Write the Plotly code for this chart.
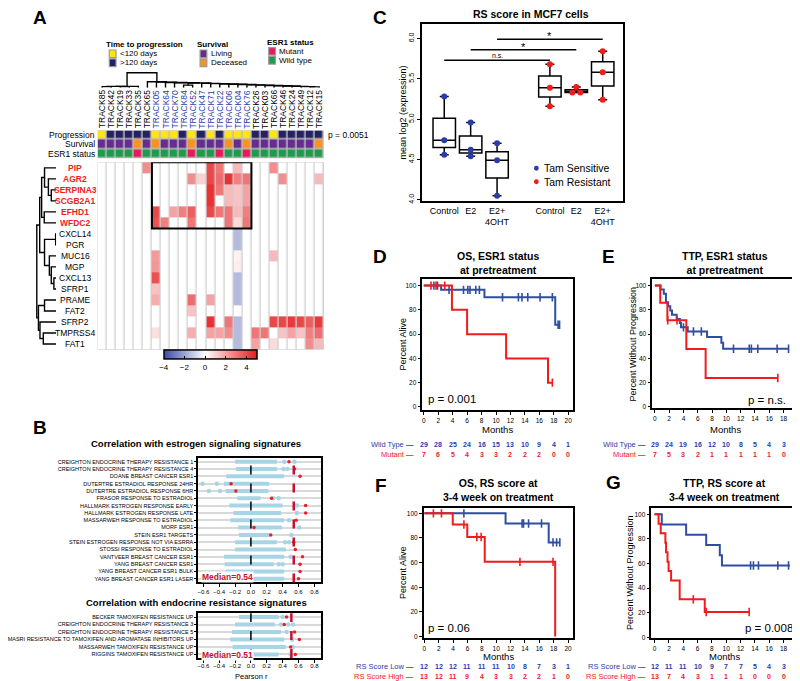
import plotly.graph_objects as go

W, H = 800, 681
FONT = "Arial, Liberation Sans, sans-serif"
BLUE = "#2B3DA8"
RED = "#EE1C25"
KM_BLUE = "#2F4EA2"
KM_RED = "#F21B1B"


def px(x):
    return x / W


def py(y):
    return 1 - y / H


def dom_x(a, b):
    return [a / W, b / W]


def dom_y(top, bot):
    return [1 - bot / H, 1 - top / H]


# ---------------- Panel A data ----------------
tracks = ["TRACK85", "TRACK42", "TRACK19", "TRACK33", "TRACK35", "TRACK65", "TRACK05",
          "TRACK64", "TRACK70", "TRACK84", "TRACK52", "TRACK47", "TRACK71", "TRACK22",
          "TRACK06", "TRACK04", "TRACK76", "TRACK26", "TRACK03", "TRACK66", "TRACK46",
          "TRACK24", "TRACK49", "TRACK12", "TRACK15"]
track_highlight = [0] * 6 + [1] * 11 + [0] * 8

genes = ["PIP", "AGR2", "SERPINA3", "SCGB2A1", "EFHD1", "WFDC2", "CXCL14", "PGR", "MUC16",
         "MGP", "CXCL13", "SFRP1", "PRAME", "FAT2", "SFRP2", "TMPRSS4", "FAT1"]
gene_highlight = [1] * 6 + [0] * 11

expr = [
    [0, 0, 0, 0, 0, 2.5, 0, 0, 0, 0, 0, 0, 4, 3, 0, 1.5, 0, 0, 0, 2.5, 0, 0, 0, 0, 0],
    [0, 0, 0, 0, 0, 0, 0, 0, 0, 0, 2.5, 1, 4, 3.2, 4.5, 2.8, 3, 0, 0, 0, 2.5, 0, 0, 0, 1.5],
    [0, 0, 0, 0, 0, 0, 0, 0, 0, 0, 0, 0, 4.5, 3, 1.5, 1.3, 2, 0, 0, 0, 0, 0, 0, 0, 0],
    [0, 0, 0, 0, 0, 0, 0, 0, 0, 0, 0, 0, 4.5, 0, 1.5, 1.3, 2, 0, 0, 0, 0, 0, 0, 0, 0],
    [0, 0, 0, 0, 0, 0, 4, 0, 2, 2.8, 3.5, 0, 4, 3, 3, 1.5, 2.8, 0, 0, 0, 0, 0, 0, 0, 0],
    [0, 0, 0, 0, 0, 0, 3.8, 2.8, 0, 0, 3, 0, 0, 0, 3, 0.8, 3, 0, 0, 0, 0, 0, 0, 0, 0],
    [0, 0, 0, 0, 0, 0, 0, 0, 0, 0, 0, 0, 0, 0, 0, -1.5, 0, 0, 0, 0, 0, 0, 0, 0, 0],
    [0, 0, 0, 0, 0, 0, 0, 0, 0, 0, 0, 0, 0, 0, 0, -1.5, 0, 0, 0, 0, 0, 0, 0, 0, 0],
    [0, 0, 0, 0, 0, 0, 2.2, 0, 0, 0, 0, 0, 0, 0, 0, 0.3, 0, 0, 0, 1.5, 0, 0, 0, 0, 0],
    [0, 0, 0, 0, 0, 0, 2.3, 0, 0, 0, 0, 0, 0, 0, 0, 0.4, 0, 0, 0, 0, 0, 0, 0, 0, 0],
    [0, 0, 0, 0, 0, 0, 3.8, 0, 0, 0, 0, 0, 0, 0, 0, -1.5, 0, 0, 0, 0, 0, 0, 0, 0, 0],
    [0, 0, 0, 0, 0, 0, 1.3, 0, 0, 0, 0, 0, 0, 0, 0, -1.5, 0, 0, 0, 0, 0, 0, 0, 0, 0],
    [0, 0, 0, 0, 0, 0, 1.8, 0, 0, 0, 3.2, 0, 2, 0, 0, -1.5, 0, 0, 0, 0, 0, 0, 0, 0, 0],
    [0, 0, 0, 0, 0, 0, 0, 0, 0, 0, 1.3, 0, 0, 0, 0, 0, 0, 0, 0, 0, 0, 0, 0, 0, 0],
    [0, 0, 0, 0, 0, 0, 0, 0, 0, 0, 0, 0, 4.5, 0, 3, -1.5, 0, 0, 0, 4, 4, 4.3, 4, 3.5, 4.3],
    [0, 0, 0, 0, 0, 0, 0.7, 0, 0, 0, 1.8, 0, 2, 2, 2.5, -1.5, 0, 3, 3, 0, 1.3, 2, 1.3, 2.8, 3.2],
    [0, 0, 0, 0, 0, 0, 0, 0, 0, 0, 0, 0, 0, 0, 0, -1.5, 0, 2, 0, 0.8, 0, 0, 0, 2.5, 1.5],
]

progression = ["<120", ">120", ">120", ">120", ">120", ">120", "<120", "<120", "<120", ">120",
               "<120", ">120", "<120", ">120", "<120", "<120", "<120", ">120", ">120", "<120",
               ">120", ">120", ">120", ">120", ">120"]
survival = ["Living", "Living", "Living", "Living", "Deceased", "Living", "Deceased", "Living",
            "Living", "Living", "Deceased", "Living", "Living", "Living", "Deceased", "Living",
            "Deceased", "Living", "Living", "Living", "Living", "Living", "Living", "Living",
            "Deceased"]
esr1 = ["WT", "WT", "WT", "WT", "Mut", "WT", "WT", "WT", "WT", "WT", "Mut", "WT", "WT", "Mut",
        "WT", "WT", "Mut", "WT", "WT", "WT", "WT", "WT", "WT", "WT", "WT"]
ann_rows = ["Progression", "Survival", "ESR1 status"]

# dendrogram merges (child a, child b, height)
col_merges = [(0, 1, 1.0), (2, 3, 1.0), (25, 26, 1.3), (27, 4, 1.3), (9, 10, 2.5),
              (23, 24, 0.8), (22, 30, 1.0), (21, 31, 1.3), (20, 32, 1.6), (19, 33, 1.9),
              (18, 34, 2.2), (17, 35, 2.5), (16, 36, 2.8), (15, 37, 3.1), (14, 38, 3.4),
              (13, 39, 3.7), (12, 40, 4.0), (11, 41, 4.3), (29, 42, 4.6), (8, 43, 4.9),
              (7, 44, 5.2), (6, 45, 5.5), (5, 46, 6.0), (28, 47, 15.0)]
row_merges = [(2, 3, 5), (1, 17, 8), (0, 18, 12), (4, 5, 12.3), (19, 20, 15), (6, 7, 0.5),
              (10, 11, 2.3), (9, 23, 5), (8, 24, 7), (22, 25, 12), (12, 13, 12),
              (15, 16, 13.3), (14, 28, 16.7), (27, 29, 18.3), (21, 26, 17), (31, 30, 20)]

# ---------------- Panel B data ----------------
est_sigs = ["CREIGHTON ENDOCRINE THERAPY RESISTANCE 1", "CREIGHTON ENDOCRINE THERAPY RESISTANCE 4",
            "DOANE BREAST CANCER ESR1", "DUTERTRE ESTRADIOL RESPONSE 24HR",
            "DUTERTRE ESTRADIOL RESPONSE 6HR", "FRASOR RESPONSE TO ESTRADIOL",
            "HALLMARK ESTROGEN RESPONSE EARLY", "HALLMARK ESTROGEN RESPONSE LATE",
            "MASSARWEH RESPONSE TO ESTRADIOL", "MORF ESR1", "STEIN ESR1 TARGETS",
            "STEIN ESTROGEN RESPONSE NOT VIA ESRRA", "STOSSI RESPONSE TO ESTRADIOL",
            "VANTVEER BREAST CANCER ESR1", "YANG BREAST CANCER ESR1",
            "YANG BREAST CANCER ESR1 BULK", "YANG BREAST CANCER ESR1 LASER"]
est_lo = [-0.20, -0.19, -0.31, -0.34, -0.32, -0.17, -0.27, -0.22, -0.26, -0.16, -0.15, -0.20,
          -0.20, -0.34, -0.33, -0.32, -0.19]
est_hi = [0.33, 0.33, 0.42, 0.23, 0.22, 0.12, 0.40, 0.38, 0.42, 0.39, 0.24, 0.33, 0.44, 0.42,
          0.29, 0.42, 0.42]
est_extra = [[0.42, 0.55], [0.41, 0.46], [], [-0.61, -0.43], [-0.53, -0.39], [0.28, 0.35],
             [0.58], [0.58], [0.48], [0.61], [0.51], [0.43, 0.48], [], [0.50], [0.35, 0.40],
             [], []]
est_rs = [0.48, 0.55, 0.62, -0.25, -0.19, 0.26, 0.69, 0.69, 0.57, 0.04, 0.25, 0.54, 0.56, 0.65,
          0.62, 0.62, 0.60]
est_median = 0.54

res_sigs = ["BECKER TAMOXIFEN RESISTANCE UP", "CREIGHTON ENDOCRINE THERAPY RESISTANCE 3",
            "CREIGHTON ENDOCRINE THERAPY RESISTANCE 5",
            "MASRI RESISTANCE TO TAMOXIFEN AND AROMATASE INHIBITORS UP",
            "MASSARWEH TAMOXIFEN RESISTANCE UP", "RIGGINS TAMOXIFEN RESISTANCE UP"]
res_lo = [-0.15, -0.20, -0.24, -0.26, -0.23, -0.19]
res_hi = [0.35, 0.30, 0.38, 0.42, 0.44, 0.35]
res_extra = [[0.40], [0.38, 0.47, 0.53], [0.45], [0.52], [0.53], [0.50]]
res_rs = [0.45, 0.42, 0.55, 0.61, 0.50, 0.56]
res_median = 0.51

# ---------------- Panel C data ----------------
c_labels = ["Control", "E2", "E2+<br>4OHT", "Control", "E2", "E2+<br>4OHT"]
c_pos = [1, 2, 3, 5, 6, 7]
c_values = [[4.56, 4.74, 5.28], [4.54, 4.62, 4.96], [4.05, 4.49, 4.70],
            [5.16, 5.39, 5.68], [5.33, 5.33, 5.40], [5.24, 5.58, 5.84]]
c_resistant = [0, 0, 0, 1, 1, 1]
c_dot_dx = [[0, 0, 0], [0, 0, 0], [0, 0, 0], [0, 0, 0], [-0.15, 0.15, 0], [0, 0, 0]]
sig_pairs = [(1, 5), (2, 6), (3, 7)]
sig_y = [5.73, 5.86, 5.99]
sig_text = ["n.s.", "*", "*"]

# ---------------- Panels D-G data ----------------
risk_months = [0, 2, 4, 6, 8, 10, 12, 14, 16, 18, 20]

d_blue_t = [0, 2.4, 8.4, 18.2, 18.8]
d_blue_s = [100, 96.5, 90.4, 67.7, 67.7]
d_blue_c = [1.4, 1.9, 3.5, 5.5, 6.1, 6.4, 7.2, 7.7, 10.9, 13.1, 13.6, 14.4, 16.1, 17.8, 18.6, 18.8]
d_red_t = [0, 3.9, 6.0, 11.4, 17.2, 17.8]
d_red_s = [100, 80, 60, 40, 20, 20]
d_red_c = [1.0, 1.7, 2.9, 17.8]
d_risk_blue = [29, 28, 25, 24, 16, 15, 13, 10, 9, 4, 1]
d_risk_red = [7, 6, 5, 4, 3, 3, 2, 2, 2, 0, 0]

e_blue_t = [0, 0.8, 1.25, 1.55, 1.85, 2.15, 2.4, 3.05, 3.5, 3.65, 4.6, 7.3, 9.3, 9.55, 18.7]
e_blue_s = [100, 96.6, 93.1, 86.2, 82.8, 79.3, 75.9, 72.4, 69.0, 65.5, 62.1, 57.6, 52.8, 47.9, 47.9]
e_blue_c = [4.0, 5.4, 6.5, 11.0, 13.2, 13.5, 14.4, 17.1, 18.7]
e_red_t = [0, 0.75, 1.75, 4.4, 7.1, 17.2]
e_red_s = [100, 85.7, 71.4, 47.6, 23.8, 23.8]
e_red_c = [1.8, 3.1, 17.2]
e_risk_blue = [29, 24, 19, 16, 12, 10, 8, 5, 4, 3, 1]
e_risk_red = [7, 5, 3, 2, 1, 1, 1, 1, 1, 0, 0]

f_blue_t = [0, 11.3, 17.3, 18.85]
f_blue_s = [100, 91.7, 76.4, 76.4]
f_blue_c = [5.5, 13.6, 13.8, 14.5, 16.3, 17.9, 18.4, 18.85]
f_red_t = [0, 3.95, 5.97, 8.4, 18.2]
f_red_s = [100, 90.9, 80.8, 60.6, 0]
f_red_c = [1.26, 2.38, 5.5, 7.3, 7.9, 13.3, 17.9]
f_risk_blue = [12, 12, 12, 11, 11, 11, 10, 8, 7, 3, 1]
f_risk_red = [13, 12, 11, 9, 4, 3, 3, 2, 2, 1, 0]

g_blue_t = [0, 1.0, 4.4, 7.2, 9.1, 9.4, 18.9]
g_blue_s = [100, 91.7, 83.3, 75.0, 66.7, 58.3, 58.3]
g_blue_c = [13.4, 13.8, 14.5, 17.2, 18.7]
g_red_t = [0, 0.55, 0.85, 1.5, 1.6, 1.8, 1.95, 2.3, 3.5, 7.0, 13.2]
g_red_s = [100, 92.3, 84.6, 76.9, 69.2, 61.5, 53.8, 46.2, 30.8, 20.5, 20.5]
g_red_c = [5.4, 7.2, 13.2]
g_risk_blue = [12, 11, 11, 10, 9, 7, 7, 5, 4, 3, 1]
g_risk_red = [13, 7, 4, 3, 1, 1, 1, 0, 0, 0, 0]

# ---------------------------------------------------------------
fig = go.Figure()
annotations = []
shapes = []


def note(text, x, y, size=8, color="black", bold=False, xanchor="center", yanchor="middle",
         xref="paper", yref="paper", angle=0, **kw):
    if bold:
        text = "<b>" + text + "</b>"
    kw.setdefault("borderpad", 0)
    annotations.append(dict(text=text, x=x, y=y, xref=xref, yref=yref, xanchor=xanchor,
                            yanchor=yanchor, showarrow=False, textangle=angle,
                            font=dict(family=FONT, size=size, color=color), **kw))


def dendro(merges, n):
    pos = list(range(n))
    hgt = [0.0] * n
    a_list, h_list = [], []
    for a, b, h in merges:
        a_list += [pos[a], pos[a], pos[b], pos[b], None]
        h_list += [hgt[a], h, h, hgt[b], None]
        pos.append((pos[a] + pos[b]) / 2)
        hgt.append(h)
    return a_list, h_list


# ---------------- Panel A ----------------
shapes.append(dict(type="rect", xref="x", yref="y", x0=-0.5, x1=24.5, y0=-0.5, y1=16.5,
                   fillcolor="#CFCFCF", line=dict(color="#C4C4C4", width=1), layer="below"))
fig.add_trace(go.Heatmap(
    z=expr, x=list(range(len(tracks))), y=list(range(len(genes))), zmin=-4, zmax=5,
    colorscale=[[0, "#3A4AA6"], [4 / 9, "#FFFFFF"], [1, "#E41A1C"]], xgap=1.3, ygap=0,
    xaxis="x", yaxis="y",
    colorbar=dict(orientation="h", x=px(185.5), xanchor="center", y=py(356.5), yanchor="middle",
                  len=93, lenmode="pixels", thickness=9, outlinecolor="black", outlinewidth=1.5,
                  tickvals=[-4, -2, 0, 2, 4], ticks="inside", ticklen=3, tickcolor="black",
                  tickfont=dict(family=FONT, size=8, color="black"), xpad=0, ypad=0)))

ann_colors = ["#FFE512", "#262262", "#662D91", "#F7931E", "#E6195B", "#1E9B4B"]
code = {"<120": 0, ">120": 1, "Living": 2, "Deceased": 3, "Mut": 4, "WT": 5}
z_ann = [[code[v] for v in progression], [code[v] for v in survival], [code[v] for v in esr1]]
shapes.append(dict(type="rect", xref="x", yref="y2", x0=-0.5, x1=24.5, y0=-0.5, y1=2.5,
                   fillcolor="#BDBDBD", line=dict(color="#BDBDBD", width=1), layer="below"))
fig.add_trace(go.Heatmap(
    z=z_ann, x=list(range(len(tracks))), y=[0, 1, 2], zmin=0, zmax=5, showscale=False,
    colorscale=[[i / 5, c] for i, c in enumerate(ann_colors)], xgap=1.5, ygap=1.5,
    xaxis="x", yaxis="y2"))

cx, ch = dendro(col_merges, len(tracks))
fig.add_trace(go.Scatter(x=cx, y=ch, mode="lines", line=dict(color="black", width=1.4),
                         xaxis="x", yaxis="y3", hoverinfo="skip"))
ry, rh = dendro(row_merges, len(genes))
fig.add_trace(go.Scatter(x=rh, y=ry, mode="lines", line=dict(color="black", width=1.4),
                         xaxis="x4", yaxis="y", hoverinfo="skip"))

shapes.append(dict(type="rect", xref="x", yref="y", x0=5.5, x1=16.5, y0=-0.5, y1=5.5,
                   line=dict(color="black", width=2)))

for i, t in enumerate(tracks):
    note(t, i, py(122), size=8.5, color=BLUE if track_highlight[i] else "black",
         xref="x", yanchor="bottom", angle=-90)
for i, g in enumerate(genes):
    if gene_highlight[i]:
        note(g, px(46), i, size=8.5, color=RED, bold=True, yref="y")
    else:
        note(g, px(46), i, size=8.5, yref="y")
for i, r in enumerate(ann_rows):
    note(r, px(67.5), i, size=8.5, xanchor="right", yref="y2")
note("p = 0.0051", px(306), 0, size=8.5, xanchor="left", yref="y2")

# legend of annotation tracks
legend_groups = [
    ("Time to progression", 77, 36.5, [(ann_colors[0], "<120 days"), (ann_colors[1], ">120 days")], 81, 46),
    ("Survival", 171, 36.5, [(ann_colors[2], "Living"), (ann_colors[3], "Deceased")], 175, 46),
    ("ESR1 status", 243, 35, [(ann_colors[4], "Mutant"), (ann_colors[5], "Wild type")], 246, 43.5),
]
for title, tx, ty, items, bx, by in legend_groups:
    note(title, px(tx), py(ty), size=8, bold=True, xanchor="left")
    for k, (col, lab) in enumerate(items):
        yc = by + k * 9
        shapes.append(dict(type="rect", xref="paper", yref="paper", x0=px(bx), x1=px(bx + 7),
                           y0=py(yc + 3.8), y1=py(yc - 3.8), fillcolor=col,
                           line=dict(color="#9A9A9A", width=1.2)))
        note(lab, px(bx + 10), py(yc), size=8, xanchor="left")

# ---------------- Panel B ----------------
def add_corr(xa, ya, lo, hi, extra, rs, median):
    sx, sy = [], []
    for i in range(len(lo)):
        sx += [lo[i], hi[i], None]
        sy += [i, i, None]
    fig.add_trace(go.Scatter(x=sx, y=sy, mode="lines", line=dict(color="#A7D5E6", width=4),
                             xaxis=xa, yaxis=ya, hoverinfo="skip"))
    ex = [v for row in extra for v in row]
    ey = [i for i, row in enumerate(extra) for _ in row]
    fig.add_trace(go.Scatter(x=ex, y=ey, mode="markers", marker=dict(color="#A7D5E6", size=4.5),
                             xaxis=xa, yaxis=ya, hoverinfo="skip"))
    fig.add_trace(go.Scatter(x=rs, y=list(range(len(rs))), mode="markers",
                             marker=dict(color="#E8202A", size=3.5), xaxis=xa, yaxis=ya))
    shapes.append(dict(type="line", xref=xa, yref=ya + " domain", x0=0, x1=0, y0=0, y1=1,
                       line=dict(color="black", width=1.5, dash="dash")))
    shapes.append(dict(type="line", xref=xa, yref=ya + " domain", x0=median, x1=median, y0=0,
                       y1=1, line=dict(color="#C8102E", width=2.5, dash="dash")))


add_corr("x5", "y5", est_lo, est_hi, est_extra, est_rs, est_median)
add_corr("x6", "y6", res_lo, res_hi, res_extra, res_rs, res_median)
note("Correlation with estrogen signaling signatures", px(171), py(437), size=9.5, bold=True)
note("Correlation with endocrine resistance signatures", px(171), py(597.5), size=9.5, bold=True)
note("Median=%.2f" % est_median, px(176), py(571.5), size=8.5, color="#C8102E", bold=True,
     xanchor="left", bgcolor="white")
note("Median=%.2f" % res_median, px(176), py(649.5), size=8.5, color="#C8102E", bold=True,
     xanchor="left", bgcolor="white")
note("Pearson r", px(228), py(671), size=7.5)

# ---------------- Panel C ----------------
for i, vals in enumerate(c_values):
    fig.add_trace(go.Box(x=[c_pos[i]] * len(vals), y=vals, width=0.85, whiskerwidth=0.4,
                         boxpoints=False, quartilemethod="inclusive", fillcolor="rgba(0,0,0,0)",
                         line=dict(color="black", width=1.5), xaxis="x7", yaxis="y7"))
    fig.add_trace(go.Scatter(x=[c_pos[i] + d for d in c_dot_dx[i]], y=vals, mode="markers",
                             marker=dict(color="#F41A1A" if c_resistant[i] else BLUE, size=6),
                             xaxis="x7", yaxis="y7"))
for (a, b), yv, txt in zip(sig_pairs, sig_y, sig_text):
    shapes.append(dict(type="line", xref="x7", yref="y7", x0=a, x1=b, y0=yv, y1=yv,
                       line=dict(color="black", width=1.5)))
    note(txt, (a + b) / 2, yv, size=7 if txt == "n.s." else 11, xref="x7", yref="y7",
         yanchor="bottom", yshift=0 if txt == "n.s." else -4)
note("RS score in MCF7 cells", px(517), py(6.5), size=10.5, bold=True)
note("mean log2 (expression)", px(385), py(105), size=9, angle=-90)
for k, (lab, col) in enumerate([("Tam Sensitive", BLUE), ("Tam Resistant", "#F41A1A")]):
    yc = 161 + k * 13.5
    shapes.append(dict(type="circle", xref="paper", yref="paper", x0=px(520.5), x1=px(525.5),
                       y0=py(yc + 2.5), y1=py(yc - 2.5), fillcolor=col, line=dict(width=0)))
    note(lab, px(530), py(yc), size=10.5, xanchor="left")

# ---------------- Panels D-G ----------------
km_panels = [
    dict(n=8, t=[(d_blue_t, d_blue_s, d_blue_c, KM_BLUE), (d_red_t, d_red_s, d_red_c, KM_RED)],
         risk=(d_risk_blue, d_risk_red), labels=("Wild Type", "Mutant"),
         title="OS, ESR1 status<br>at pretreatment", ytitle="Percent Alive"),
    dict(n=9, t=[(e_blue_t, e_blue_s, e_blue_c, KM_BLUE), (e_red_t, e_red_s, e_red_c, KM_RED)],
         risk=(e_risk_blue, e_risk_red), labels=("Wild Type", "Mutant"),
         title="TTP, ESR1 status<br>at pretreatment", ytitle="Percent Without Progression"),
    dict(n=10, t=[(f_blue_t, f_blue_s, f_blue_c, KM_BLUE), (f_red_t, f_red_s, f_red_c, KM_RED)],
         risk=(f_risk_blue, f_risk_red), labels=("RS Score Low", "RS Score High"),
         title="OS, RS score at<br>3-4 week on treatment", ytitle="Percent Alive"),
    dict(n=11, t=[(g_blue_t, g_blue_s, g_blue_c, KM_BLUE), (g_red_t, g_red_s, g_red_c, KM_RED)],
         risk=(g_risk_blue, g_risk_red), labels=("RS Score Low", "RS Score High"),
         title="TTP, RS score at<br>3-4 week on treatment", ytitle="Percent Without Progression"),
]
km_geom = {  # left, right, top, bottom (px), title y, months y, risk rows y, ytitle x, label right
    8: (405, 561, 272, 404, 256, 423, (438, 448.5), 385, 397),
    9: (643, 794, 272, 402, 256, 423, (438, 448.5), 623, 637),
    10: (406.5, 561, 502, 633, 484, 651, (661, 671), 385, 397),
    11: (642, 794, 502, 633, 484, 651, (661, 671), 620, 637),
}
km_ranges = {8: ([-0.2, 20.67], [-2.7, 105.6]), 9: ([-0.36, 20.05], [-1.1, 105.5]),
             10: ([-0.08, 20.69], [-1.4, 104.5]), 11: ([-0.46, 20.05], [-0.8, 105.3])}
for p in km_panels:
    n = p["n"]
    xa, ya = "x%d" % n, "y%d" % n
    for tt, ss, cc, col in p["t"]:
        fig.add_trace(go.Scatter(x=tt, y=ss, mode="lines", line=dict(color=col, width=2, shape="hv"),
                                 xaxis=xa, yaxis=ya))
        cens = []
        for c in cc:
            lvl = [s for t, s in zip(tt, ss) if t <= c][-1]
            cens.append(lvl)
        fig.add_trace(go.Scatter(x=cc, y=cens, mode="markers",
                                 marker=dict(symbol="line-ns-open", size=6, color=col,
                                             line=dict(color=col, width=1.6)),
                                 xaxis=xa, yaxis=ya))
    l, r, t, b, ty, my, (r1, r2), ytx, lr = km_geom[n]
    note("<b>" + p["title"].replace("<br>", "</b><br><b>") + "</b>", px((l + r) / 2), py(ty), size=10.5)
    note("Months", px((l + r) / 2), py(my), size=9.5)
    note(p["ytitle"], px(ytx), py((t + b) / 2), size=9, angle=-90)
    for m, vb, vr in zip(risk_months, p["risk"][0], p["risk"][1]):
        note(str(vb), m, py(r1), size=7, color=BLUE, bold=True, xref=xa)
        note(str(vr), m, py(r2), size=7, color=RED, bold=True, xref=xa)
    note(p["labels"][0] + " <b>\u2014</b>", px(lr), py(r1), size=7.5, color=BLUE, xanchor="right")
    note(p["labels"][1] + " <b>\u2014</b>", px(lr), py(r2), size=7.5, color=RED, xanchor="right")

note("p = 0.001", px(410), py(393), size=11.5, xanchor="left")
note("p = n.s.", px(782), py(394), size=11.5, xanchor="right")
note("p = 0.06", px(410), py(623), size=11.5, xanchor="left")
note("p = 0.008", px(790), py(623), size=11.5, xanchor="right")

# panel letters
for letter, lx, ly in [("A", 9, 10), ("C", 361, 10), ("B", 9, 421), ("D", 361, 250),
                       ("E", 598, 250), ("F", 362, 480), ("G", 603, 477)]:
    note(letter, px(lx), py(ly), size=19, bold=True)

# ---------------- axes ----------------
axis_font = dict(family=FONT, size=6.5, color="black")
box_axis = dict(showline=True, mirror=True, linecolor="black", linewidth=1.5, ticks="outside",
                ticklen=3, tickwidth=1, tickcolor="black", showgrid=False, zeroline=False,
                tickfont=axis_font)

layout_axes = dict(
    xaxis=dict(domain=dom_x(69, 303), range=[-0.5, 24.5], visible=False, anchor="y"),
    yaxis=dict(domain=dom_y(155, 343), range=[16.5, -0.5], visible=False, anchor="x"),
    yaxis2=dict(domain=dom_y(123, 151), range=[2.5, -0.5], visible=False, anchor="x"),
    yaxis3=dict(domain=dom_y(62, 80), range=[0, 18], visible=False, anchor="x"),
    xaxis4=dict(domain=dom_x(2, 26), range=[24, 0], visible=False, anchor="y"),
    xaxis5=dict(box_axis, domain=dom_x(173, 300), range=[-0.665, 0.882], anchor="y5",
                tickvals=[-0.6, -0.4, -0.2, 0, 0.2, 0.4, 0.6, 0.8], tickformat=".1f",
                tickfont=dict(family=FONT, size=6, color="black")),
    yaxis5=dict(box_axis, domain=dom_y(452, 577), range=[16.5, -0.5], anchor="x5",
                tickvals=list(range(len(est_sigs))), ticktext=est_sigs, ticklen=2,
                tickfont=dict(family=FONT, size=5.5, color="black"), showgrid=True,
                gridcolor="#D9D9D9", gridwidth=1.5),
    xaxis6=dict(box_axis, domain=dom_x(173, 300), range=[-0.665, 0.882], anchor="y6",
                tickvals=[-0.6, -0.4, -0.2, 0, 0.2, 0.4, 0.6, 0.8], tickformat=".1f",
                ticklabelstandoff=-2, tickfont=dict(family=FONT, size=6, color="black")),
    yaxis6=dict(box_axis, domain=dom_y(608, 653), range=[5.5, -0.5], anchor="x6",
                tickvals=list(range(len(res_sigs))), ticktext=res_sigs, ticklen=2,
                tickfont=dict(family=FONT, size=5.5, color="black"), showgrid=True,
                gridcolor="#D9D9D9", gridwidth=1.5),
    xaxis7=dict(box_axis, domain=dom_x(405, 613), range=[0.17, 7.78], anchor="y7",
                tickvals=c_pos, ticktext=c_labels, ticks="",
                tickfont=dict(family=FONT, size=9, color="black")),
    yaxis7=dict(box_axis, domain=dom_y(16, 194), range=[3.984, 6.18], anchor="x7",
                tickvals=[4.0, 4.5, 5.0, 5.5, 6.0], tickformat=".1f", tickangle=-90, ticklen=4,
                tickfont=dict(family=FONT, size=7, color="black")),
)
for n, (l, r, t, b, *_rest) in km_geom.items():
    xr, yr = km_ranges[n]
    layout_axes["xaxis%d" % n] = dict(box_axis, domain=dom_x(l, r), range=xr, anchor="y%d" % n,
                                      tickvals=risk_months)
    layout_axes["yaxis%d" % n] = dict(box_axis, domain=dom_y(t, b), range=yr, anchor="x%d" % n,
                                      tickvals=[0, 20, 40, 60, 80, 100])

fig.update_layout(width=W, height=H, margin=dict(l=0, r=0, t=0, b=0), paper_bgcolor="white",
                  plot_bgcolor="white", showlegend=False, font=dict(family=FONT, color="black"),
                  annotations=annotations, shapes=shapes, **layout_axes)

fig.write_html("out.html")
